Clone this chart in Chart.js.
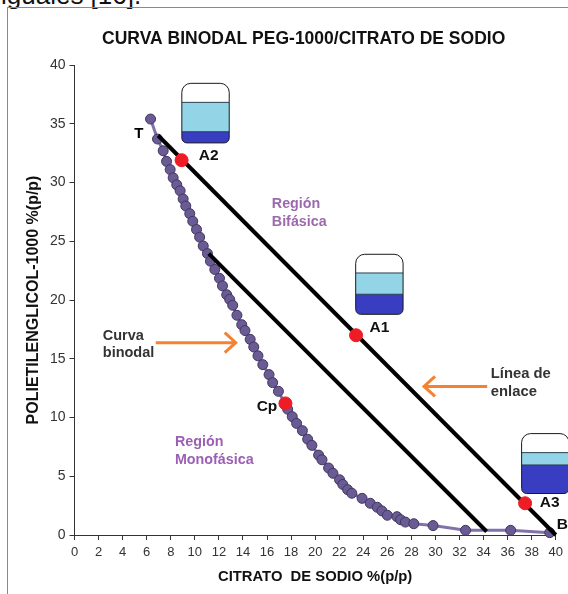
<!DOCTYPE html>
<html>
<head>
<meta charset="utf-8">
<title>Curva binodal</title>
<script src="https://cdn.jsdelivr.net/npm/chart.js@4"></script>
<style>
    html, body { margin: 0; padding: 0; background: #fff; width: 568px; height: 594px; overflow: hidden; }
    #frame { position: absolute; left: 7px; top: 7px; width: 561px; height: 587px; border-left: 1px solid #8a8a8a; border-top: 1px solid #8a8a8a; box-sizing: border-box; }
    #topText { position: absolute; left: 1px; top: -20px; font: 26px "Liberation Sans", Arial, sans-serif; color: #111; white-space: nowrap; }
    #binodalChart { position: absolute; left: 0; top: 0; }
</style>
</head>
<body>
<div id="topText">iguales [16].</div>
<div id="frame"></div>
<canvas id="binodalChart" width="568" height="594"></canvas>
<script>
// Curva binodal, values
const curveX = [6.32, 6.9, 7.37, 7.65, 7.95, 8.2, 8.5, 8.78, 9.03, 9.25, 9.58, 9.83, 10.14, 10.4, 10.7, 11.05, 11.3, 11.66, 12.05, 12.3, 12.65, 12.9, 13.15, 13.5, 13.9, 14.17, 14.6, 14.9, 15.25, 15.65, 16.17, 16.47, 16.95, 17.72, 18.1, 18.46, 18.94, 19.38, 19.73, 20.29, 20.57, 21.12, 21.48, 22.03, 22.3, 22.7, 23.05, 23.9, 24.58, 25.16, 25.55, 26.0, 26.8, 27.1, 27.5, 28.2, 29.8, 32.5, 36.25, 39.5];
const curveY = [35.4, 33.7, 32.7, 31.8, 31.1, 30.4, 29.8, 29.3, 28.6, 28.0, 27.35, 26.7, 26.0, 25.35, 24.6, 23.95, 23.3, 22.6, 21.85, 21.2, 20.45, 20.05, 19.55, 18.7, 17.9, 17.4, 16.65, 16.0, 15.25, 14.5, 13.65, 12.97, 12.23, 10.7, 10.07, 9.5, 8.88, 8.15, 7.63, 6.8, 6.4, 5.7, 5.25, 4.7, 4.3, 3.86, 3.55, 3.12, 2.7, 2.36, 2.05, 1.68, 1.56, 1.3, 1.1, 0.96, 0.8, 0.4, 0.4, 0.2];

const tieUpperX = [6.95, 40];
const tieUpperY = [34.0, 0];
const tieLowerX = [11.16, 34.25];
const tieLowerY = [23.95, 0.3];

const redX = [8.9, 23.4, 37.45, 17.53];
const redY = [31.9, 17.0, 2.7, 11.2];

const xTicks = [0, 2, 4, 6, 8, 10, 12, 14, 16, 18, 20, 22, 24, 26, 28, 30, 32, 34, 36, 38, 40];
const yTicks = [0, 5, 10, 15, 20, 25, 30, 35, 40];

const FONT = '"Liberation Sans", Arial, sans-serif';

function toPoints(xs, ys) {
    return xs.map((x, i) => ({ x: x, y: ys[i] }));
}

// Small labels on the plot, anchored in data units
const notes = [
    { text: 'T', x: 5.35, y: 34.1, color: '#000', size: 15 },
    { text: 'A2', x: 11.15, y: 32.3, color: '#111', size: 15.5 },
    { text: 'A1', x: 25.35, y: 17.6, color: '#111', size: 15.5 },
    { text: 'A3', x: 39.5, y: 2.75, color: '#111', size: 15.5 },
    { text: 'B', x: 40.55, y: 0.85, color: '#111', size: 15.5 },
    { text: 'Cp', x: 16, y: 10.95, color: '#111', size: 15.5 },
    { text: 'Región', x: 16.4, y: 28.15, color: '#9c69ae', size: 14.3, align: 'left' },
    { text: 'Bifásica', x: 16.4, y: 26.6, color: '#9c69ae', size: 14.3, align: 'left' },
    { text: 'Región', x: 8.35, y: 7.9, color: '#9c5fb5', size: 14.3, align: 'left' },
    { text: 'Monofásica', x: 8.35, y: 6.35, color: '#9c5fb5', size: 14.3, align: 'left' },
    { text: 'Curva', x: 2.35, y: 16.95, color: '#333', size: 14.5, align: 'left' },
    { text: 'binodal', x: 2.35, y: 15.45, color: '#333', size: 14.5, align: 'left' },
    { text: 'Línea de', x: 34.6, y: 13.7, color: '#333', size: 14.8, align: 'left' },
    { text: 'enlace', x: 34.6, y: 12.15, color: '#333', size: 14.8, align: 'left' }
];

const arrows = [
    { fromX: 6.75, toX: 13.4, y: 16.37 },
    { fromX: 34.3, toX: 29.05, y: 12.64 }
];

const vials = [
    { x: 8.92, width: 3.94, top: 38.44, light: 36.82, dark: 34.32, bottom: 33.37 },
    { x: 23.37, width: 3.94, top: 23.89, light: 22.3, dark: 20.49, bottom: 18.78 },
    { x: 37.16, width: 3.94, top: 8.63, light: 7.01, dark: 5.96, bottom: 3.53 }
];

function drawVial(ctx, sx, sy, v) {
    const left = sx.getPixelForValue(v.x);
    const right = sx.getPixelForValue(v.x + v.width);
    const top = sy.getPixelForValue(v.top);
    const light = sy.getPixelForValue(v.light);
    const dark = sy.getPixelForValue(v.dark);
    const bottom = sy.getPixelForValue(v.bottom);
    const w = right - left;

    ctx.save();
    ctx.beginPath();
    ctx.roundRect(left, top, w, bottom - top, [9, 9, 5, 5]);
    ctx.fillStyle = '#fff';
    ctx.fill();
    ctx.save();
    ctx.clip();
    ctx.fillStyle = '#93d4e6';
    ctx.fillRect(left, light, w, dark - light);
    ctx.fillStyle = '#383dc2';
    ctx.fillRect(left, dark, w, bottom - dark);
    ctx.strokeStyle = '#2a4050';
    ctx.lineWidth = 1;
    ctx.beginPath();
    ctx.moveTo(left, light);
    ctx.lineTo(right, light);
    ctx.moveTo(left, dark);
    ctx.lineTo(right, dark);
    ctx.stroke();
    ctx.restore();
    ctx.beginPath();
    ctx.roundRect(left, top, w, bottom - top, [9, 9, 5, 5]);
    ctx.strokeStyle = '#1a1a1a';
    ctx.lineWidth = 1;
    ctx.stroke();
    ctx.restore();
}

function drawArrow(ctx, sx, sy, a) {
    const x0 = sx.getPixelForValue(a.fromX);
    const x1 = sx.getPixelForValue(a.toX);
    const y = sy.getPixelForValue(a.y);
    const dir = x1 > x0 ? 1 : -1;
    ctx.save();
    ctx.strokeStyle = '#f58231';
    ctx.lineWidth = 3;
    ctx.beginPath();
    ctx.moveTo(x0, y);
    ctx.lineTo(x1, y);
    ctx.moveTo(x1 - dir * 11, y - 10);
    ctx.lineTo(x1, y);
    ctx.lineTo(x1 - dir * 11, y + 10);
    ctx.stroke();
    ctx.restore();
}

const annotationsPlugin = {
    id: 'plotNotes',
    afterLayout(chart) {
        // title sits off-centre in the reference
        chart.titleBlock.left = 51;
    },
    afterDatasetsDraw(chart) {
        const ctx = chart.ctx;
        const sx = chart.scales.x;
        const sy = chart.scales.y;
        vials.forEach(v => drawVial(ctx, sx, sy, v));
        arrows.forEach(a => drawArrow(ctx, sx, sy, a));
        notes.forEach(n => {
            ctx.save();
            ctx.font = 'bold ' + n.size + 'px ' + FONT;
            ctx.fillStyle = n.color;
            ctx.textAlign = n.align || 'center';
            ctx.textBaseline = 'middle';
            ctx.fillText(n.text, sx.getPixelForValue(n.x), sy.getPixelForValue(n.y));
            ctx.restore();
        });
    }
};

new Chart(document.getElementById('binodalChart'), {
    type: 'scatter',
    data: {
        datasets: [
            {
                label: 'Puntos de mezcla',
                data: toPoints(redX, redY),
                backgroundColor: '#ee1c25',
                borderColor: '#ee1c25',
                pointRadius: 6.5,
                order: 0
            },
            {
                label: 'Línea de enlace 1',
                data: toPoints(tieUpperX, tieUpperY),
                showLine: true,
                borderColor: '#000',
                borderWidth: 4,
                pointRadius: 0,
                clip: false,
                order: 1
            },
            {
                label: 'Línea de enlace 2',
                data: toPoints(tieLowerX, tieLowerY),
                showLine: true,
                borderColor: '#000',
                borderWidth: 4,
                pointRadius: 0,
                clip: false,
                order: 2
            },
            {
                label: 'Curva binodal',
                data: toPoints(curveX, curveY),
                showLine: true,
                borderColor: '#8072ac',
                borderWidth: 3,
                backgroundColor: '#6b5b95',
                pointBorderColor: '#40365f',
                pointBorderWidth: 1,
                pointRadius: 5,
                clip: false,
                order: 3
            }
        ]
    },
    options: {
        responsive: false,
        animation: false,
        layout: { padding: { left: 24, right: 11.7, top: 29, bottom: 8 } },
        plugins: {
            legend: { display: false },
            tooltip: { enabled: false },
            title: {
                display: true,
                text: 'CURVA BINODAL PEG-1000/CITRATO DE SODIO',
                color: '#111',
                font: { family: FONT, size: 17.5, weight: 'bold' },
                padding: { top: 0, bottom: 15 }
            }
        },
        scales: {
            x: {
                type: 'linear',
                min: 0,
                max: 40,
                afterBuildTicks(axis) { axis.ticks = xTicks.map(v => ({ value: v })); },
                afterFit(axis) { axis.height = 51; },
                grid: { drawOnChartArea: false, tickLength: 5, tickColor: '#333' },
                border: { color: '#333', width: 1 },
                ticks: {
                    color: '#333',
                    maxRotation: 0,
                    autoSkip: false,
                    padding: 5,
                    font: { family: FONT, size: 13 }
                },
                title: {
                    display: true,
                    text: 'CITRATO  DE SODIO %(p/p)',
                    color: '#111',
                    font: { family: FONT, size: 14.8, weight: 'bold' },
                    padding: { top: 3, bottom: 0 }
                }
            },
            y: {
                type: 'linear',
                min: 0,
                max: 40,
                afterBuildTicks(axis) { axis.ticks = yTicks.map(v => ({ value: v })); },
                afterFit(axis) { axis.width = 50.5; },
                grid: { drawOnChartArea: false, tickLength: 5, tickColor: '#333' },
                border: { color: '#333', width: 1 },
                ticks: {
                    color: '#333',
                    padding: 4,
                    font: { family: FONT, size: 14 }
                },
                title: {
                    display: true,
                    text: 'POLIETILENGLICOL-1000 %(p/p)',
                    color: '#111',
                    font: { family: FONT, size: 16, weight: 'bold' },
                    padding: { top: 0, bottom: 1 }
                }
            }
        }
    },
    plugins: [annotationsPlugin]
});
</script>
</body>
</html>
